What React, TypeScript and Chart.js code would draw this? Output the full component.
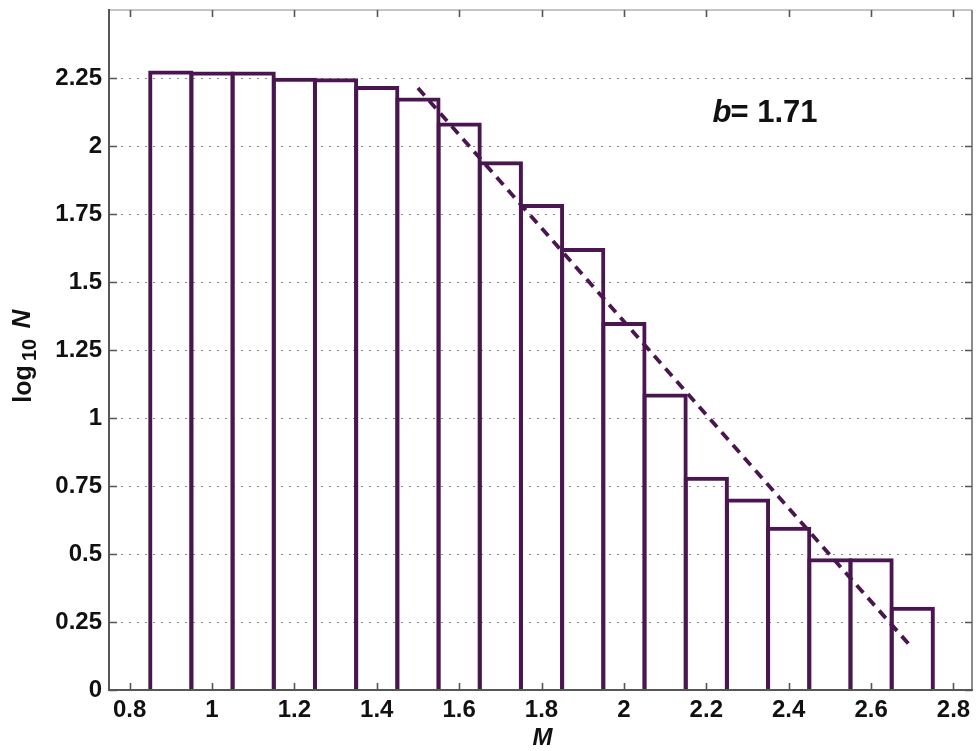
import React, { useEffect, useRef } from 'react';
import { Chart, registerables } from 'chart.js';

Chart.register(...registerables);

// ---- data ----
const binCenters = [0.9, 1.0, 1.1, 1.2, 1.3, 1.4, 1.5, 1.6, 1.7, 1.8, 1.9, 2.0, 2.1, 2.2, 2.3, 2.4, 2.5, 2.6, 2.7];
const log10N = [2.27, 2.267, 2.267, 2.244, 2.242, 2.213, 2.171, 2.079, 1.937, 1.779, 1.618, 1.346, 1.083, 0.777, 0.697, 0.593, 0.477, 0.477, 0.299];
const fitM = [1.5, 2.7];
const fitLog10N = [2.213, 0.154];
const xTicks = [0.8, 1.0, 1.2, 1.4, 1.6, 1.8, 2.0, 2.2, 2.4, 2.6, 2.8];
const xTickLabels = ['0.8', '1', '1.2', '1.4', '1.6', '1.8', '2', '2.2', '2.4', '2.6', '2.8'];
const yTicks = [0, 0.25, 0.5, 0.75, 1, 1.25, 1.5, 1.75, 2, 2.25];
const yTickLabels = ['0', '0.25', '0.5', '0.75', '1', '1.25', '1.5', '1.75', '2', '2.25'];
const bValueText = '1.71';

const PURPLE = '#4a1650';
const FONT = '"Liberation Sans", Arial, Helvetica, sans-serif';

const decorPlugin = {
  id: 'decor',
  beforeDatasetsDraw(chart: any) {
    const { ctx, chartArea } = chart;
    const ys = chart.scales.y;
    ctx.save();
    ctx.strokeStyle = '#8a8a8a';
    ctx.lineWidth = 1.2;
    ctx.setLineDash([2, 6]);
    for (const v of yTicks) {
      if (v === 0) continue;
      const y = Math.round(ys.getPixelForValue(v)) + 0.5;
      ctx.beginPath();
      ctx.moveTo(chartArea.left + 4, y);
      ctx.lineTo(chartArea.right, y);
      ctx.stroke();
    }
    ctx.restore();
  },
  afterDatasetsDraw(chart: any) {
    const { ctx, chartArea } = chart;
    const { left, right, top, bottom } = chartArea;
    const xs = chart.scales.x;
    const ys = chart.scales.y;
    ctx.save();
    ctx.setLineDash([]);
    // frame
    ctx.lineWidth = 2;
    ctx.strokeStyle = '#c4c4c4';
    ctx.beginPath();
    ctx.moveTo(left, top);
    ctx.lineTo(right, top);
    ctx.stroke();
    ctx.strokeStyle = '#8c8c8c';
    ctx.beginPath();
    ctx.moveTo(right, top);
    ctx.lineTo(right, bottom);
    ctx.stroke();
    ctx.strokeStyle = '#575757';
    ctx.beginPath();
    ctx.moveTo(left, top - 1);
    ctx.lineTo(left, bottom);
    ctx.lineTo(right + 1, bottom);
    ctx.stroke();
    // inward ticks
    ctx.lineWidth = 1.6;
    ctx.strokeStyle = '#555';
    const tl = 7;
    for (const v of xTicks) {
      const x = Math.round(xs.getPixelForValue(v)) + 0.5;
      ctx.beginPath();
      ctx.moveTo(x, bottom);
      ctx.lineTo(x, bottom - tl);
      ctx.moveTo(x, top);
      ctx.lineTo(x, top + tl);
      ctx.stroke();
    }
    for (const v of yTicks) {
      const y = Math.round(ys.getPixelForValue(v)) + 0.5;
      ctx.beginPath();
      ctx.moveTo(left, y);
      ctx.lineTo(left + tl + 1, y);
      ctx.moveTo(right, y);
      ctx.lineTo(right - tl, y);
      ctx.stroke();
    }
    // annotation "b= 1.71"
    ctx.fillStyle = '#111';
    ctx.textBaseline = 'alphabetic';
    ctx.textAlign = 'left';
    const ax = xs.getPixelForValue(2.215);
    const ay = ys.getPixelForValue(2.09);
    ctx.font = `italic bold 31px ${FONT}`;
    ctx.fillText('b', ax, ay);
    const bw = ctx.measureText('b').width;
    ctx.font = `bold 31px ${FONT}`;
    ctx.fillText('= ' + bValueText, ax + bw - 1, ay);
    // x title
    ctx.textAlign = 'center';
    ctx.font = `italic bold 24px ${FONT}`;
    ctx.fillText('M', (left + right) / 2 + 2, 745);
    // y title (rotated): log_10 N
    ctx.save();
    ctx.translate(31, (top + bottom) / 2 + 2);
    ctx.rotate(-Math.PI / 2);
    ctx.textAlign = 'center';
    ctx.font = `bold 25px ${FONT}`;
    ctx.fillText('log', -32, 0);
    ctx.font = `bold 20px ${FONT}`;
    ctx.fillText('10', 2, 5);
    ctx.font = `italic bold 26px ${FONT}`;
    ctx.fillText('N', 33, -1);
    ctx.restore();
    ctx.restore();
  },
};

export default function App() {
  const canvasRef = useRef<HTMLCanvasElement | null>(null);

  useEffect(() => {
    const canvas = canvasRef.current;
    if (!canvas) return;
    const chart = new Chart(canvas, {
      type: 'bar',
      data: {
        datasets: [
          {
            type: 'line',
            label: 'fit',
            data: fitM.map((m, i) => ({ x: m, y: fitLog10N[i] })),
            borderColor: PURPLE,
            borderWidth: 3.8,
            borderDash: [10, 7],
            pointRadius: 0,
            fill: false,
            tension: 0,
            order: 0,
          } as any,
          {
            type: 'bar',
            label: 'log10N',
            data: binCenters.map((m, i) => ({ x: m, y: log10N[i] })),
            backgroundColor: 'rgba(0,0,0,0)',
            borderColor: PURPLE,
            borderWidth: 0.01,
            inflateAmount: 2,
            borderSkipped: 'start',
            base: -0.03,
            clip: { left: 5, right: 5, top: 5, bottom: 0 },
            barPercentage: 1,
            categoryPercentage: 1,
            order: 1,
          } as any,
        ],
      },
      options: {
        animation: false,
        responsive: false,
        devicePixelRatio: 1,
        events: [],
        layout: { padding: { left: 0, right: 5, top: 10, bottom: 0 } },
        plugins: {
          legend: { display: false },
          tooltip: { enabled: false },
          title: { display: false },
        },
        scales: {
          x: {
            type: 'linear',
            min: 0.75,
            max: 2.845,
            offset: false,
            grid: { display: false, drawTicks: false, tickLength: 0 },
            border: { display: false },
            afterFit: (s: any) => {
              s.height = 61;
              s.paddingLeft = 0;
              s.paddingRight = 0;
            },
            afterBuildTicks: (s: any) => {
              s.ticks = xTicks.map((v) => ({ value: v }));
            },
            ticks: {
              autoSkip: false,
              maxRotation: 0,
              padding: 6,
              color: '#111',
              font: { family: FONT, size: 24, weight: 'bold' },
              callback: (_v: any, i: number) => xTickLabels[i],
            },
          },
          y: {
            type: 'linear',
            min: 0,
            max: 2.5,
            grid: { display: false, drawTicks: false, tickLength: 0 },
            border: { display: false },
            afterFit: (s: any) => {
              s.width = 109;
              s.paddingTop = 0;
              s.paddingBottom = 0;
            },
            afterBuildTicks: (s: any) => {
              s.ticks = yTicks.map((v) => ({ value: v }));
            },
            ticks: {
              padding: 7,
              color: '#111',
              font: { family: FONT, size: 24, weight: 'bold' },
              callback: (_v: any, i: number) => yTickLabels[i],
            },
          },
        },
      },
      plugins: [decorPlugin],
    } as any);
    return () => chart.destroy();
  }, []);

  return (
    <div style={{ position: 'fixed', left: 0, top: 0, width: 977, height: 751, background: '#fff' }}>
      <canvas ref={canvasRef} width={977} height={751} style={{ display: 'block' }} />
    </div>
  );
}
